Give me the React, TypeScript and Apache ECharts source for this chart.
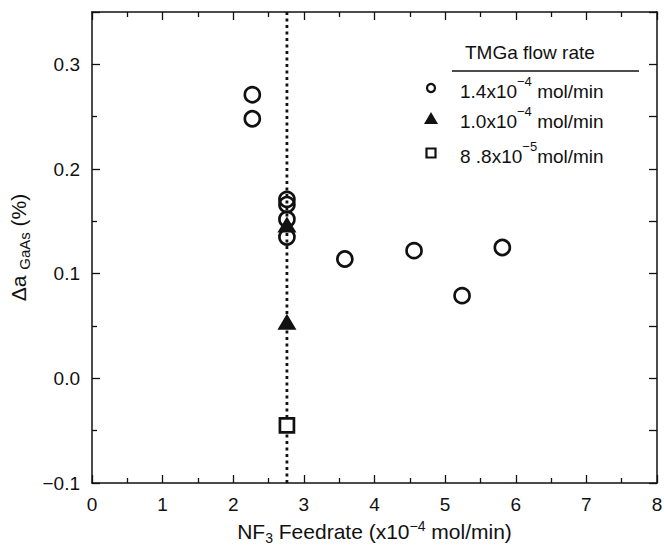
import React, { useEffect, useRef } from "react";
import * as echarts from "echarts";

// Data (x: NF3 feedrate x1e-4 mol/min, y: Δa GaAs %)
const circleX = [2.27, 2.27, 2.76, 2.76, 2.76, 2.76, 3.58, 4.56, 5.24, 5.81];
const circleY = [0.271, 0.248, 0.171, 0.166, 0.152, 0.135, 0.114, 0.122, 0.079, 0.125];
const triangleX = [2.76, 2.76];
const triangleY = [0.147, 0.054];
const squareX = [2.76];
const squareY = [-0.045];
const refLineX = 2.76;
const yTicks = [-0.1, 0.0, 0.1, 0.2, 0.3];
const legendTitle = "TMGa flow rate";
const legendMant = ["1.4x10", "1.0x10", "8 .8x10"];
const legendExp = ["−4", "−4", "−5"];
const legendUnit = [" mol/min", " mol/min", "mol/min"];

const FONT = "Liberation Sans, Arial, sans-serif";

export default function App() {
  const ref = useRef<HTMLDivElement>(null);
  useEffect(() => {
    document.body.style.margin = "0";
    if (!ref.current) return;
    const chart = echarts.init(ref.current, undefined, { renderer: "svg" });
    const pair = (xs: number[], ys: number[]) => xs.map((x, i) => [x, ys[i]]);
    const black = "#111";
    const axisCommon = {
      axisLine: { show: true, onZero: false, lineStyle: { color: black, width: 1.5 } },
      axisTick: { show: true, inside: true, length: 8, lineStyle: { color: black, width: 1.3 } },
      minorTick: { show: true, splitNumber: 2, length: 5, lineStyle: { color: black, width: 1.3 } },
      splitLine: { show: false },
    };
    const legendX = 431;
    const legendYs = [88, 118, 153];
    const graphic: any[] = [
      {
        type: "text",
        left: 465,
        top: 43,
        style: { text: legendTitle, fill: black, font: `19px ${FONT}` },
      },
      {
        type: "line",
        shape: { x1: 452, y1: 71, x2: 639, y2: 71 },
        style: { stroke: black, lineWidth: 1.3 },
      },
      {
        type: "circle",
        shape: { cx: legendX, cy: legendYs[0], r: 4 },
        style: { fill: "none", stroke: black, lineWidth: 2.2 },
      },
      {
        type: "polygon",
        shape: { points: [[legendX, legendYs[1] - 6], [legendX - 7, legendYs[1] + 6], [legendX + 7, legendYs[1] + 6]] },
        style: { fill: black },
      },
      {
        type: "rect",
        shape: { x: legendX - 4.5, y: legendYs[2] - 4.5, width: 9, height: 9 },
        style: { fill: "none", stroke: black, lineWidth: 2.2 },
      },
    ];
    legendMant.forEach((m, i) => {
      graphic.push({
        type: "text",
        left: 460,
        top: legendYs[i] - 13,
        style: {
          text: `{n|${m}}{s|${legendExp[i]}}{n|${legendUnit[i]}}`,
          rich: {
            n: { fontSize: 19, fontFamily: FONT, fill: black, lineHeight: 26, verticalAlign: "bottom" },
            s: { fontSize: 13, fontFamily: FONT, fill: black, lineHeight: 26, verticalAlign: "top" },
          },
        },
      });
    });

    const option: any = {
      animation: false,
      backgroundColor: "#fff",
      grid: { left: 92, right: 7, top: 12, bottom: 62, containLabel: false, outerBoundsMode: "none" },
      xAxis: [
        {
          type: "value",
          min: 0,
          max: 8,
          interval: 1,
          position: "bottom",
          ...axisCommon,
          axisLabel: { show: true, color: black, fontSize: 19, fontFamily: FONT, margin: 12 },
          name: "{n|NF}{sub|3}{n| Feedrate (x10}{sup|−4}{n| mol/min)}",
          nameLocation: "middle",
          nameGap: 35,
          nameTextStyle: {
            rich: {
              n: { fontSize: 21, fontFamily: FONT, color: black, lineHeight: 26 },
              sub: { fontSize: 14, fontFamily: FONT, color: black, lineHeight: 26, verticalAlign: "bottom", padding: [9, 0, 0, 0] },
              sup: { fontSize: 14, fontFamily: FONT, color: black, lineHeight: 26, verticalAlign: "top", padding: [0, 0, 10, 0] },
            },
          },
        },
        {
          type: "value",
          min: 0,
          max: 8,
          interval: 1,
          position: "top",
          ...axisCommon,
          axisLabel: { show: false },
        },
      ],
      yAxis: [
        {
          type: "value",
          min: -0.1,
          max: 0.35,
          interval: 0.1,
          position: "left",
          ...axisCommon,
          axisLabel: {
            show: true,
            color: black,
            fontSize: 19,
            fontFamily: FONT,
            margin: 12,
            formatter: (v: number) => {
              const t = yTicks.find((k) => Math.abs(k - v) < 1e-9);
              if (t === undefined) return "";
              return t.toFixed(1).replace("-", "−");
            },
          },
          name: "{n|Δa }{sub|GaAs}{n| (%)}",
          nameLocation: "middle",
          nameGap: 52,
          nameRotate: 90,
          nameTextStyle: {
            rich: {
              n: { fontSize: 21, fontFamily: FONT, color: black, lineHeight: 26 },
              sub: { fontSize: 15, fontFamily: FONT, color: black, lineHeight: 26, verticalAlign: "bottom", padding: [12, 0, 0, 0] },
            },
          },
        },
        {
          type: "value",
          min: -0.1,
          max: 0.35,
          interval: 0.1,
          position: "right",
          ...axisCommon,
          minorTick: { show: true, splitNumber: 2, length: 8, lineStyle: { color: black, width: 1.3 } },
          axisLabel: { show: false },
        },
      ],
      graphic,
      series: [
        {
          type: "line",
          data: [[refLineX, -0.1], [refLineX, 0.35]],
          symbol: "none",
          lineStyle: { color: black, width: 2.8, type: [3, 3.5] },
          silent: true,
          z: 1,
        },
        {
          type: "scatter",
          name: "1.4e-4",
          data: pair(circleX, circleY),
          symbol: "circle",
          symbolSize: 15,
          itemStyle: { color: "rgba(0,0,0,0)", borderColor: black, borderWidth: 2.7, opacity: 1 },
          z: 3,
        },
        {
          type: "scatter",
          name: "1.0e-4",
          data: pair(triangleX, triangleY),
          symbol: "triangle",
          symbolSize: [19, 16],
          itemStyle: { color: black, opacity: 1 },
          z: 4,
        },
        {
          type: "scatter",
          name: "8.8e-5",
          data: pair(squareX, squareY),
          symbol: "rect",
          symbolSize: 14,
          itemStyle: { color: "#fff", borderColor: black, borderWidth: 2.7, opacity: 1 },
          z: 4,
        },
      ],
    };
    chart.setOption(option);
    return () => chart.dispose();
  }, []);
  return <div ref={ref} style={{ width: 664, height: 545 }} />;
}
